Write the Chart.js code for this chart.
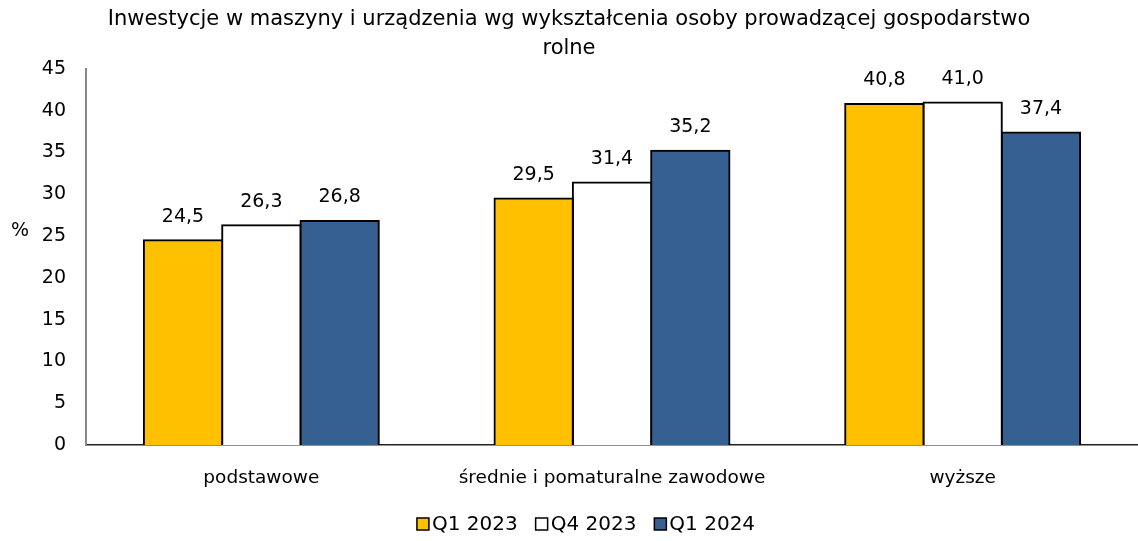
<!DOCTYPE html>
<html>
<head>
<meta charset="utf-8">
<script src="https://cdn.jsdelivr.net/npm/chart.js@4"></script>
<style>
  html, body { margin: 0; padding: 0; background: #fff; }
  #wrap { width: 1138px; height: 541px; }
</style>
</head>
<body>
<div id="wrap"><canvas id="chart"></canvas></div>
<script>
var categories = ['podstawowe', 'średnie i pomaturalne zawodowe', 'wyższe'];
var seriesNames = ['Q1 2023', 'Q4 2023', 'Q1 2024'];
var q1_2023 = [24.5, 29.5, 40.8];
var q4_2023 = [26.3, 31.4, 41.0];
var q1_2024 = [26.8, 35.2, 37.4];
var colors = ['#FFC000', '#FFFFFF', '#376092'];
var yTicks = [0, 5, 10, 15, 20, 25, 30, 35, 40, 45];

var fontFamily = '"DejaVu Sans", sans-serif';

// value labels above each bar, with comma as decimal separator
var valueLabels = {
    id: 'valueLabels',
    afterDatasetsDraw: function(chart) {
        var ctx = chart.ctx;
        ctx.save();
        ctx.font = '19px ' + fontFamily;
        ctx.fillStyle = '#000';
        ctx.textAlign = 'center';
        ctx.textBaseline = 'bottom';
        chart.data.datasets.forEach(function(ds, i) {
            chart.getDatasetMeta(i).data.forEach(function(bar, j) {
                ctx.fillText(ds.data[j].toFixed(1).replace('.', ','), bar.x, bar.y - 14);
            });
        });
        ctx.restore();
    }
};

// horizontal "%" unit next to the y axis
var unitLabel = {
    id: 'unitLabel',
    afterDraw: function(chart) {
        var ctx = chart.ctx;
        ctx.save();
        ctx.font = '19px ' + fontFamily;
        ctx.fillStyle = '#000';
        ctx.textAlign = 'center';
        ctx.textBaseline = 'middle';
        ctx.fillText('%', 20, 231);
        ctx.restore();
    }
};

// compact legend row: small box, text right next to it
var legendRow = {
    id: 'legendRow',
    afterDraw: function(chart) {
        var ctx = chart.ctx;
        var box = 12, gap = 3, itemGap = 18;
        ctx.save();
        ctx.font = '20px ' + fontFamily;
        var items = chart.data.datasets.map(function(ds) {
            return { ds: ds, w: box + gap + ctx.measureText(ds.label).width };
        });
        var total = items.reduce(function(s, it) { return s + it.w; }, 0) + itemGap * (items.length - 1);
        var x = (chart.width - total) / 2 + 17;
        var y = 524;
        ctx.textBaseline = 'middle';
        ctx.textAlign = 'left';
        items.forEach(function(it) {
            ctx.fillStyle = it.ds.backgroundColor;
            ctx.fillRect(x, y - box / 2, box, box);
            ctx.lineWidth = 1.5;
            ctx.strokeStyle = '#000';
            ctx.strokeRect(x, y - box / 2, box, box);
            ctx.fillStyle = '#000';
            ctx.fillText(it.ds.label, x + box + gap, y + 1);
            x += it.w + itemGap;
        });
        ctx.restore();
    }
};

var datasets = [q1_2023, q4_2023, q1_2024].map(function(values, i) {
    return {
        label: seriesNames[i],
        data: values,
        backgroundColor: colors[i],
        borderColor: '#000',
        borderWidth: 2,
        borderSkipped: 'bottom',
        inflateAmount: 1
    };
});

new Chart(document.getElementById('chart'), {
    type: 'bar',
    data: { labels: categories, datasets: datasets },
    options: {
        responsive: true,
        maintainAspectRatio: false,
        animation: false,
        categoryPercentage: 0.67,
        barPercentage: 1,
        layout: { padding: { left: 0, right: 0, top: 0, bottom: 34 } },
        plugins: {
            title: {
                display: true,
                text: ['Inwestycje w maszyny i urządzenia wg wykształcenia osoby prowadzącej gospodarstwo', 'rolne'],
                color: '#000',
                font: { family: fontFamily, size: 21, weight: 'normal', lineHeight: 1.38 },
                padding: { top: 5, bottom: 6 }
            },
            legend: { display: false },
            tooltip: { enabled: false }
        },
        scales: {
            x: {
                grid: { display: false, drawTicks: false },
                border: { color: '#222', width: 1.5 },
                ticks: { color: '#000', font: { family: fontFamily, size: 18.5 }, padding: 22 },
                afterFit: function(s) { s.height = 62; }
            },
            y: {
                min: 0,
                max: 45,
                afterBuildTicks: function(s) { s.ticks = yTicks.map(function(v) { return { value: v }; }); },
                grid: { display: false, drawTicks: false },
                border: { color: '#888', width: 2 },
                ticks: { color: '#000', font: { family: fontFamily, size: 19 }, padding: 20 },
                afterFit: function(s) { s.width = 86; }
            }
        }
    },
    plugins: [valueLabels, unitLabel, legendRow]
});
</script>
</body>
</html>
